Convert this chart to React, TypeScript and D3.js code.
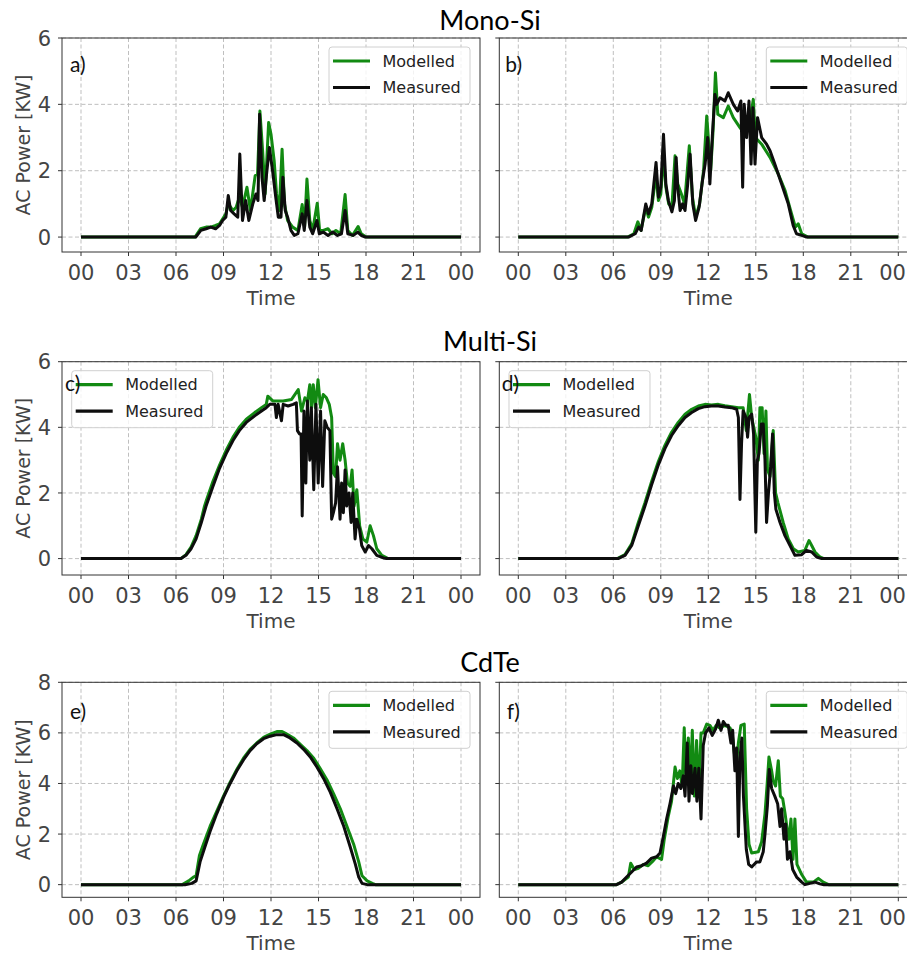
import React from "react";
import * as d3 from "d3";

type Pt = [number, number];

// x axis: hour of day, y axis: AC power in kW
const hourTicks = [0, 3, 6, 9, 12, 15, 18, 21, 24];
const hourLabels = ["00", "03", "06", "09", "12", "15", "18", "21", "00"];
const siPowerTicks = [0, 2, 4, 6];
const cdtePowerTicks = [0, 2, 4, 6, 8];
const rowTitles = ["Mono-Si", "Multi-Si", "CdTe"];
const panelLabels = ["a)", "b)", "c)", "d)", "e)", "f)"];
const seriesNames = ["Modelled", "Measured"];

// [hour, kW]
const monoSiAModelled: Pt[] = [[0,0],[7.2,0],[7.55,0.25],[7.9,0.3],[8.2,0.3],[8.5,0.35],[8.75,0.4],[8.95,0.55],[9.15,0.7],[9.3,1.0],[9.45,0.9],[9.6,0.8],[9.8,0.9],[10.0,1.2],[10.2,0.9],[10.48,1.5],[10.7,0.8],[11.0,1.85],[11.15,1.9],[11.3,3.8],[11.47,2.6],[11.63,1.3],[11.85,3.45],[12.0,3.1],[12.2,2.3],[12.35,1.3],[12.52,0.8],[12.7,2.65],[12.85,1.0],[13.05,0.5],[13.37,0.3],[13.7,0.2],[13.97,0.98],[14.12,0.3],[14.27,1.75],[14.45,0.5],[14.63,0.2],[14.92,1.02],[15.07,0.2],[15.3,0.2],[15.6,0.25],[15.85,0.1],[16.1,0.2],[16.4,0.1],[16.68,1.28],[16.85,0.2],[17.15,0.05],[17.5,0.32],[17.7,0.1],[18.0,0],[24,0]];
const monoSiAMeasured: Pt[] = [[0,0],[7.25,0],[7.57,0.2],[7.9,0.25],[8.2,0.3],[8.5,0.25],[8.75,0.35],[8.94,0.5],[9.15,0.6],[9.3,1.25],[9.45,0.8],[9.67,0.7],[9.9,0.6],[10.03,2.5],[10.2,0.5],[10.4,1.1],[10.6,0.5],[10.85,1.0],[11.05,1.3],[11.18,1.1],[11.28,3.7],[11.43,1.8],[11.57,1.1],[11.72,1.9],[11.9,2.7],[12.1,2.0],[12.3,1.2],[12.46,0.6],[12.63,0.6],[12.75,1.8],[12.9,0.8],[13.05,0.6],[13.26,0.2],[13.47,0.05],[13.7,0.1],[13.97,0.7],[14.1,0.2],[14.27,1.1],[14.45,0.3],[14.63,0.1],[14.9,0.5],[15.05,0.1],[15.3,0.15],[15.6,0.05],[15.9,0.15],[16.2,0.05],[16.45,0.1],[16.68,0.8],[16.85,0.1],[17.2,0.05],[17.48,0.15],[17.7,0.05],[17.95,0],[24,0]];

const monoSiBModelled: Pt[] = [[0,0],[6.9,0],[7.3,0.1],[7.55,0.46],[7.75,0.2],[8.05,0.9],[8.22,0.6],[8.43,0.9],[8.7,1.9],[8.85,1.1],[9.0,1.3],[9.17,2.5],[9.32,1.5],[9.5,1.0],[9.7,0.9],[9.9,2.45],[10.07,1.6],[10.3,1.3],[10.5,1.0],[10.8,2.75],[11.0,1.2],[11.2,0.6],[11.45,1.0],[11.7,2.0],[11.9,3.65],[12.15,2.0],[12.3,3.2],[12.45,4.95],[12.6,3.7],[12.95,3.6],[13.26,3.95],[13.58,3.6],[14.0,3.3],[14.3,3.1],[14.63,3.5],[14.84,4.15],[14.97,3.0],[15.37,2.8],[15.9,2.4],[16.42,1.9],[16.85,1.4],[17.26,0.7],[17.5,0.3],[17.68,0.4],[17.9,0.1],[18.3,0],[24,0]];
const monoSiBMeasured: Pt[] = [[0,0],[6.96,0],[7.38,0.1],[7.6,0.3],[7.76,0.2],[8.05,1.0],[8.22,0.7],[8.43,1.0],[8.7,2.25],[8.85,1.2],[9.0,1.5],[9.17,3.1],[9.32,1.6],[9.48,1.1],[9.7,0.76],[9.86,1.1],[9.97,2.4],[10.07,1.5],[10.22,0.8],[10.37,1.0],[10.53,0.8],[10.7,1.6],[10.85,2.5],[11.02,1.0],[11.2,0.5],[11.42,0.9],[11.63,1.7],[11.8,2.2],[11.96,3.0],[12.1,1.6],[12.26,3.1],[12.42,4.3],[12.53,4.0],[12.74,4.2],[13.05,4.1],[13.26,4.35],[13.58,4.0],[13.85,3.8],[14.06,4.1],[14.17,1.5],[14.27,4.0],[14.42,3.0],[14.57,4.1],[14.7,2.2],[14.82,3.9],[14.95,2.2],[15.11,3.6],[15.37,3.0],[15.68,2.8],[15.9,2.6],[16.2,2.2],[16.63,1.6],[17.05,1.0],[17.36,0.35],[17.57,0.1],[17.9,0.05],[18.2,0],[24,0]];

const multiSiCModelled: Pt[] = [[0,0],[6.3,0],[6.63,0.12],[6.95,0.35],[7.27,0.7],[7.6,1.2],[7.8,1.6],[7.9,1.75],[8.33,2.35],[8.75,2.85],[9.17,3.3],[9.6,3.7],[10.0,4.0],[10.44,4.25],[10.97,4.45],[11.4,4.6],[11.7,4.7],[11.8,4.95],[12.13,4.8],[12.77,4.8],[13.3,4.85],[13.72,5.15],[13.93,4.5],[14.14,4.9],[14.3,4.8],[14.45,5.3],[14.55,4.6],[14.67,5.3],[14.8,4.6],[14.97,5.45],[15.13,4.6],[15.3,5.0],[15.5,4.9],[15.68,4.7],[15.83,4.3],[15.94,2.6],[16.08,2.5],[16.2,3.5],[16.36,3.0],[16.53,3.5],[16.68,3.0],[16.83,2.3],[17.0,2.2],[17.12,2.7],[17.25,1.6],[17.42,2.1],[17.6,1.0],[17.8,0.6],[18.05,0.5],[18.26,1.0],[18.47,0.7],[18.68,0.3],[19.0,0.1],[19.4,0],[24,0]];
const multiSiCMeasured: Pt[] = [[0,0],[6.32,0],[6.63,0.1],[6.95,0.3],[7.27,0.6],[7.6,1.1],[7.9,1.6],[8.33,2.2],[8.75,2.75],[9.17,3.2],[9.6,3.6],[10.0,3.9],[10.44,4.15],[10.97,4.35],[11.4,4.5],[11.7,4.6],[11.92,4.7],[12.13,4.7],[12.25,4.7],[12.34,4.3],[12.45,4.7],[12.66,4.2],[12.77,4.7],[13.08,4.65],[13.4,4.7],[13.6,4.75],[13.67,3.9],[13.8,3.8],[13.9,3.8],[13.97,1.3],[14.08,4.5],[14.2,2.3],[14.3,4.8],[14.45,3.0],[14.55,4.6],[14.7,2.1],[14.84,4.7],[14.98,2.3],[15.13,4.5],[15.26,2.2],[15.4,4.2],[15.55,4.0],[15.72,3.9],[15.83,1.2],[15.94,1.4],[16.08,1.7],[16.2,2.8],[16.36,1.2],[16.46,2.3],[16.57,1.4],[16.68,2.7],[16.78,1.6],[16.93,2.0],[17.06,1.1],[17.16,2.0],[17.31,0.6],[17.42,1.2],[17.59,0.9],[17.73,0.4],[17.95,0.2],[18.16,0.4],[18.37,0.3],[18.68,0.1],[19.1,0.02],[19.3,0],[24,0]];

const multiSiDModelled: Pt[] = [[0,0],[6.25,0],[6.74,0.12],[7.16,0.45],[7.58,1.1],[8.0,1.7],[8.42,2.35],[8.84,2.95],[9.26,3.45],[9.68,3.85],[10.1,4.15],[10.53,4.4],[10.95,4.55],[11.37,4.65],[11.79,4.7],[12.2,4.68],[12.63,4.7],[13.05,4.66],[13.47,4.63],[13.9,4.6],[14.2,4.6],[14.4,3.9],[14.6,5.0],[14.74,4.3],[15.0,3.7],[15.16,3.0],[15.26,4.6],[15.4,4.6],[15.52,3.2],[15.64,4.5],[15.74,2.7],[15.9,2.5],[16.1,3.9],[16.25,2.0],[16.4,1.7],[16.73,1.1],[17.05,0.6],[17.37,0.3],[17.68,0.2],[18.1,0.25],[18.36,0.55],[18.53,0.4],[18.74,0.2],[19.05,0.05],[19.3,0],[24,0]];
const multiSiDMeasured: Pt[] = [[0,0],[6.3,0],[6.74,0.1],[7.16,0.4],[7.58,1.0],[8.0,1.6],[8.42,2.25],[8.84,2.85],[9.26,3.35],[9.68,3.75],[10.1,4.05],[10.53,4.3],[10.95,4.45],[11.37,4.57],[11.79,4.63],[12.2,4.65],[12.63,4.65],[13.05,4.62],[13.47,4.6],[13.79,4.55],[13.9,4.3],[14.0,1.8],[14.1,3.5],[14.2,4.5],[14.38,4.3],[14.48,3.7],[14.58,4.3],[14.74,4.4],[14.86,3.8],[15.0,0.8],[15.1,3.0],[15.2,3.2],[15.35,4.1],[15.47,4.1],[15.58,3.0],[15.68,1.1],[15.8,2.0],[15.94,2.8],[16.06,3.8],[16.17,2.0],[16.27,1.5],[16.53,1.1],[16.84,0.7],[17.16,0.4],[17.47,0.1],[17.9,0.12],[18.2,0.25],[18.53,0.2],[18.84,0.05],[19.16,0],[24,0]];

const cdteEModelled: Pt[] = [[0,0],[6.4,0],[6.8,0.15],[7.1,0.3],[7.27,0.35],[7.48,1.15],[7.73,1.6],[8.15,2.3],[8.57,2.9],[9.0,3.5],[9.42,4.05],[9.84,4.55],[10.26,5.0],[10.68,5.35],[11.1,5.6],[11.53,5.82],[11.95,5.95],[12.37,6.05],[12.7,6.05],[13.0,5.95],[13.42,5.8],[13.85,5.55],[14.27,5.3],[14.7,5.0],[15.1,4.6],[15.53,4.15],[15.95,3.6],[16.38,3.0],[16.8,2.3],[17.22,1.6],[17.54,0.9],[17.75,0.35],[18.07,0.15],[18.4,0.05],[18.6,0],[24,0]];
const cdteEMeasured: Pt[] = [[0,0],[6.57,0],[7.0,0.05],[7.27,0.15],[7.52,0.9],[7.83,1.5],[8.15,2.1],[8.57,2.8],[9.0,3.45],[9.42,4.0],[9.84,4.5],[10.26,4.93],[10.68,5.3],[11.1,5.57],[11.53,5.77],[11.95,5.87],[12.37,5.93],[12.79,5.93],[13.2,5.8],[13.64,5.6],[14.06,5.35],[14.48,5.05],[14.9,4.65],[15.32,4.2],[15.75,3.65],[16.17,3.0],[16.6,2.3],[17.0,1.5],[17.33,0.8],[17.54,0.3],[17.75,0.05],[18.07,0],[24,0]];

const cdteFModelled: Pt[] = [[0,0],[6.2,0],[6.53,0.1],[6.95,0.3],[7.1,0.85],[7.33,0.6],[7.58,0.65],[7.9,0.8],[8.2,0.75],[8.53,0.95],[8.74,1.1],[9.05,1.0],[9.22,1.8],[9.47,2.7],[9.68,3.3],[9.9,4.65],[10.05,4.2],[10.2,4.5],[10.35,3.9],[10.48,6.2],[10.6,4.0],[10.74,5.8],[10.86,4.0],[10.99,6.1],[11.12,3.5],[11.26,5.7],[11.4,3.6],[11.54,6.0],[11.68,6.0],[11.9,6.35],[12.1,6.3],[12.3,6.1],[12.5,6.3],[12.7,6.2],[13.05,6.3],[13.37,6.2],[13.5,6.0],[13.63,5.3],[13.75,4.6],[13.9,5.6],[14.06,6.3],[14.27,6.35],[14.42,3.0],[14.57,1.6],[14.74,1.25],[15.16,1.3],[15.37,1.7],[15.58,2.8],[15.72,4.0],[15.83,5.05],[16.0,4.5],[16.1,4.1],[16.25,3.9],[16.42,4.9],[16.55,3.5],[16.7,3.4],[16.85,2.8],[16.98,2.2],[17.1,1.8],[17.22,2.6],[17.35,1.0],[17.47,2.6],[17.6,0.8],[17.9,0.4],[18.2,0.1],[18.63,0.1],[18.95,0.25],[19.26,0.1],[19.6,0],[24,0]];
const cdteFMeasured: Pt[] = [[0,0],[6.2,0],[6.53,0.1],[6.84,0.3],[7.16,0.5],[7.47,0.7],[7.79,0.75],[8.1,0.85],[8.42,1.05],[8.74,1.1],[8.95,1.25],[9.16,1.9],[9.37,2.6],[9.58,3.2],[9.8,3.9],[9.94,3.6],[10.1,4.0],[10.27,3.8],[10.42,4.3],[10.53,3.5],[10.67,5.6],[10.78,3.3],[10.9,4.7],[11.0,3.6],[11.16,4.6],[11.28,3.3],[11.4,4.6],[11.54,2.6],[11.68,5.5],[11.83,6.0],[12.04,6.2],[12.25,5.9],[12.46,6.15],[12.63,6.5],[12.8,6.1],[12.95,6.45],[13.12,6.3],[13.26,6.3],[13.43,5.6],[13.54,6.1],[13.68,4.5],[13.79,5.4],[13.9,1.9],[14.0,5.0],[14.12,5.8],[14.22,3.5],[14.4,1.4],[14.55,0.8],[14.74,0.7],[15.05,0.9],[15.26,0.9],[15.47,1.3],[15.58,2.0],[15.73,3.1],[15.85,4.55],[16.0,3.8],[16.2,3.5],[16.38,3.2],[16.53,2.3],[16.63,3.0],[16.78,1.8],[16.88,2.4],[17.0,1.0],[17.16,1.3],[17.33,0.6],[17.58,0.3],[17.9,0.1],[18.1,0],[18.42,0.05],[18.74,0.1],[19.05,0.03],[19.3,0],[24,0]];

const GREEN = "#128a12";
const BLACK = "#0d0d0d";
const TICK_FONT = "'DejaVu Sans', sans-serif";
const TITLE_FONT = "Lato, 'Open Sans', sans-serif";
const PAGE_W = 907;

const colX = [62, 499.3];
const axW = 418;
const rows = [
  { top: 38, bottom: 252, yDomain: [-0.45, 6], yTicks: siPowerTicks, titleY: 30 },
  { top: 361.7, bottom: 575, yDomain: [-0.5, 6], yTicks: siPowerTicks, titleY: 350.7 },
  { top: 682.3, bottom: 897.3, yDomain: [-0.5, 8], yTicks: cdtePowerTicks, titleY: 672.3 },
];

const panelSeries: [Pt[], Pt[]][] = [
  [monoSiAModelled, monoSiAMeasured],
  [monoSiBModelled, monoSiBMeasured],
  [multiSiCModelled, multiSiCMeasured],
  [multiSiDModelled, multiSiDMeasured],
  [cdteEModelled, cdteEMeasured],
  [cdteFModelled, cdteFMeasured],
];

// label position (offset from axes top-left) and legend placement
const labelPos = [[8, 27], [6, 27], [3, 21.5], [2.5, 21.5], [8, 29.5], [7.5, 29.5]];
const legendRight = [true, true, false, false, true, true];

function Panel(props: any) {
  const { left, top, height, yDomain, yTicks, showY, modelled, measured, label, lpos, right } = props;
  const width = axW;
  const x = d3.scaleLinear().domain([-1.2, 25.2]).range([0, width]);
  const y = d3.scaleLinear().domain(yDomain).range([height, 0]);
  const line = d3.line<Pt>().x((d) => x(d[0])).y((d) => y(d[1]));

  const lgW = 141, lgH = 57;
  const lgX = right ? width - 10 - lgW : 9.7;
  const lgY = 9;

  return (
    <g transform={`translate(${left},${top})`}>
      <rect width={width} height={height} fill="#fff" />
      <g stroke="#b8b8b8" strokeWidth={0.9} strokeDasharray="4,2.5">
        {hourTicks.map((t) => (
          <line key={"gx" + t} x1={x(t)} x2={x(t)} y1={0} y2={height} />
        ))}
        {yTicks.map((t: number) => (
          <line key={"gy" + t} x1={0} x2={width} y1={y(t)} y2={y(t)} />
        ))}
      </g>
      <path d={line(modelled) || ""} fill="none" stroke={GREEN} strokeWidth={3} strokeLinejoin="round" />
      <path d={line(measured) || ""} fill="none" stroke={BLACK} strokeWidth={3} strokeLinejoin="round" />
      <rect width={width} height={height} fill="none" stroke="#333" strokeWidth={1} />
      <g stroke="#333" strokeWidth={1}>
        {hourTicks.map((t) => (
          <line key={"tx" + t} x1={x(t)} x2={x(t)} y1={height} y2={height + 4} />
        ))}
        {yTicks.map((t: number) => (
          <line key={"ty" + t} x1={-4} x2={0} y1={y(t)} y2={y(t)} />
        ))}
      </g>
      <g fontFamily={TICK_FONT} fontSize={21} fill="#444">
        {hourTicks.map((t, i) => {
          // keep the last label inside the page edge
          const over = left + x(t) + 14 > PAGE_W;
          return (
            <text
              key={"lx" + t}
              x={over ? PAGE_W - 1 - left : x(t)}
              y={height + 28}
              textAnchor={over ? "end" : "middle"}
            >
              {hourLabels[i]}
            </text>
          );
        })}
        {showY &&
          yTicks.map((t: number) => (
            <text key={"ly" + t} x={-11} y={y(t)} dy="0.36em" textAnchor="end">
              {t}
            </text>
          ))}
        <text x={width / 2} y={height + 53} textAnchor="middle" fontSize={20}>
          Time
        </text>
        {showY && (
          <text transform={`translate(${-32},${height / 2}) rotate(-90)`} textAnchor="middle" fontSize={19}>
            AC Power [KW]
          </text>
        )}
      </g>
      <g>
        <rect x={lgX} y={lgY} width={lgW} height={lgH} rx={3} fill="#fff" fillOpacity={0.8} stroke="#d0d0d0" />
        <line x1={lgX + 4} x2={lgX + 41} y1={lgY + 14} y2={lgY + 14} stroke={GREEN} strokeWidth={3.2} />
        <line x1={lgX + 4} x2={lgX + 41} y1={lgY + 40.5} y2={lgY + 40.5} stroke={BLACK} strokeWidth={3.2} />
        <text x={lgX + 53.5} y={lgY + 14} dy="0.36em" fontFamily={TICK_FONT} fontSize={16} fill="#222">
          {seriesNames[0]}
        </text>
        <text x={lgX + 53.5} y={lgY + 40.5} dy="0.36em" fontFamily={TICK_FONT} fontSize={16} fill="#222">
          {seriesNames[1]}
        </text>
      </g>
      <text x={lpos[0]} y={lpos[1]} dy="0.35em" fontFamily={TITLE_FONT} fontSize={21} fill="#111">
        {label}
      </text>
    </g>
  );
}

export default function App() {
  return (
    <svg width={PAGE_W} height={954} style={{ position: "absolute", left: 0, top: 0, background: "#fff" }}>
      {rows.map((r, ri) => (
        <g key={ri}>
          <text x={490} y={r.titleY} textAnchor="middle" fontFamily={TITLE_FONT} fontSize={27} fill="#000">
            {rowTitles[ri]}
          </text>
          {colX.map((cx, ci) => {
            const k = ri * 2 + ci;
            return (
              <Panel
                key={k}
                left={cx}
                top={r.top}
                height={r.bottom - r.top}
                yDomain={r.yDomain}
                yTicks={r.yTicks}
                showY={ci === 0}
                modelled={panelSeries[k][0]}
                measured={panelSeries[k][1]}
                label={panelLabels[k]}
                lpos={labelPos[k]}
                right={legendRight[k]}
              />
            );
          })}
        </g>
      ))}
    </svg>
  );
}
